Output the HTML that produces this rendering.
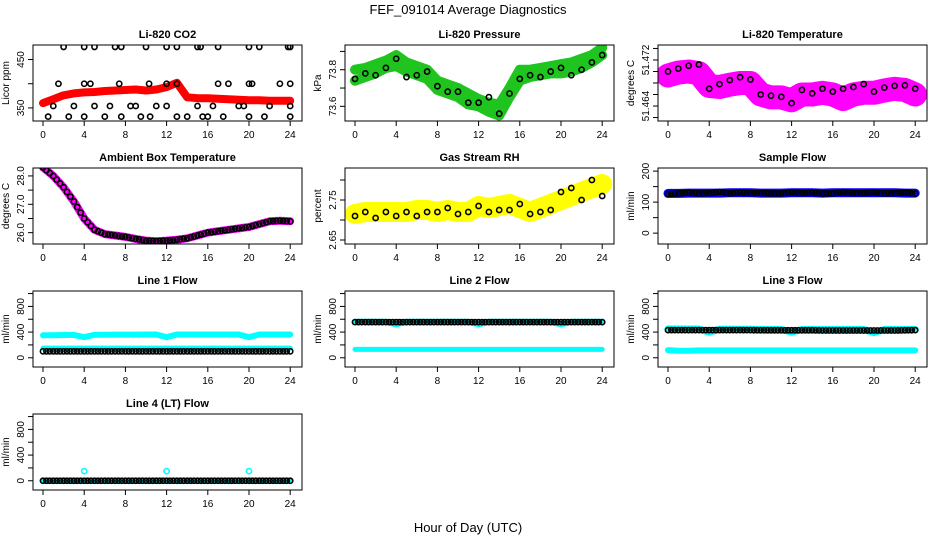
<!DOCTYPE html>
<html><head><meta charset="utf-8"><style>
body{margin:0;background:#fff}
svg{display:block;font-family:"Liberation Sans",sans-serif}
</style></head><body>
<svg id="c" width="936" height="540" xmlns="http://www.w3.org/2000/svg">
<rect width="936" height="540" fill="#fff"/>
<text x="468" y="14" text-anchor="middle" font-size="13">FEF_091014  Average Diagnostics</text>
<text x="468" y="532" text-anchor="middle" font-size="13">Hour of Day (UTC)</text>
</svg>
<script>
const hours=[0,1,2,3,4,5,6,7,8,9,10,11,12,13,14,15,16,17,18,19,20,21,22,23,24];
const xTicks=[0,4,8,12,16,20,24];
const co2Red=[360,368,376,380,382,383,385,386,387,388,386,388,393,402,372,370,370,369,368,367,366,366,365,365,365];
const co2BlackHours=[2,4,5,7,7.6,10,12,13,15,15.3,17,20,21,23.8,24,1.5,4,4.6,7.4,10.3,12,13,17,18,20,20.3,23,24,1,3,5,6.5,8.5,9,11,12,15,16.5,19,19.5,22,24,0.5,2.5,4,6,7.6,9.5,10.4,13,14,15.5,16,17.5,20,21.5,24];
const co2BlackVals=[476,476,476,476,476,476,476,476,476,476,476,476,476,476,476,400,400,400,400,400,400,400,400,400,400,400,400,400,354,354,354,354,354,354,354,354,354,354,354,354,354,354,332,332,332,332,332,332,332,332,332,332,332,332,332,332,332];
const presUpper=[73.80,73.81,73.83,73.85,73.88,73.84,73.82,73.80,73.74,73.72,73.70,73.67,73.64,73.62,73.61,73.70,73.80,73.80,73.81,73.82,73.83,73.84,73.86,73.88,73.92];
const presLower=[73.74,73.76,73.78,73.81,73.82,73.79,73.77,73.75,73.69,73.67,73.65,73.61,73.60,73.57,73.55,73.65,73.74,73.76,73.77,73.78,73.78,73.79,73.81,73.84,73.88];
const presBlack=[73.75,73.78,73.77,73.81,73.86,73.76,73.77,73.79,73.71,73.68,73.68,73.62,73.62,73.65,73.56,73.67,73.75,73.77,73.76,73.79,73.81,73.77,73.80,73.84,73.88];
const tempMag=[51.4693,51.4698,51.4700,51.4697,51.4675,51.4673,51.4677,51.4680,51.4680,51.4660,51.4655,51.4655,51.4650,51.4660,51.4660,51.4663,51.4660,51.4652,51.4660,51.4663,51.4663,51.4667,51.4670,51.4668,51.4660];
const tempBlack=[51.4700,51.4705,51.4710,51.4712,51.4670,51.4678,51.4685,51.4690,51.4686,51.4660,51.4658,51.4656,51.4645,51.4668,51.4662,51.4670,51.4665,51.4670,51.4673,51.4678,51.4665,51.4672,51.4675,51.4676,51.4670];
const ambient=[28.3,28.0,27.6,27.1,26.5,26.1,25.95,25.9,25.85,25.78,25.72,25.7,25.72,25.75,25.8,25.9,26.0,26.05,26.1,26.15,26.2,26.3,26.4,26.42,26.4];
const rhYellow=[2.715,2.72,2.72,2.72,2.72,2.72,2.725,2.725,2.72,2.725,2.72,2.72,2.735,2.73,2.735,2.74,2.73,2.72,2.73,2.74,2.75,2.76,2.77,2.78,2.79];
const rhBlack=[2.71,2.72,2.705,2.72,2.71,2.72,2.71,2.72,2.72,2.73,2.715,2.72,2.735,2.72,2.725,2.725,2.74,2.715,2.72,2.725,2.77,2.78,2.75,2.80,2.76];
const sampleBlue=[128,128,129,129,129,129,130,130,130,129,129,129,130,130,130,129,130,130,130,130,130,130,130,129,129];
const sampleBlack=[126,128,130,128,129,133,128,131,129,129,128,128,131,129,130,128,128,132,129,129,131,128,129,131,128];
const l1CyanHi=[350,352,355,356,320,358,358,360,360,360,362,362,320,362,362,362,362,362,362,362,320,362,362,362,362];
const l1CyanLo=[150,150,150,150,150,150,150,150,150,150,150,150,150,150,150,150,150,150,150,150,150,150,150,150,150];
const l1Black=[100,100,100,100,100,100,100,100,100,100,100,100,100,100,100,100,100,100,100,100,100,100,100,100,100];
const l2CyanHi=[560,560,560,560,520,560,560,560,560,560,560,560,520,560,560,560,560,560,560,560,520,560,560,560,560];
const l2CyanLo=[130,130,130,130,130,130,130,130,130,130,130,130,130,130,130,130,130,130,130,130,130,130,130,130,130];
const l2Black=[555,555,555,555,555,555,555,555,555,555,555,555,555,555,555,555,555,555,555,555,555,555,555,555,555];
const l3CyanHi=[450,448,448,448,400,445,445,445,445,440,440,440,400,440,440,440,440,440,440,440,390,440,440,440,440];
const l3CyanLo=[120,110,110,115,115,115,115,115,115,115,115,115,115,115,115,115,115,115,115,115,115,115,115,115,115];
const l3Black=[430,430,430,430,430,430,430,430,430,428,428,428,428,428,428,425,425,425,425,425,425,425,425,428,430];
const l4Cyan=[0,0,0,0,150,0,0,0,0,0,0,0,150,0,0,0,0,0,0,0,150,0,0,0,0];
const l4Black=[0,0,0,0,0,0,0,0,0,0,0,0,0,0,0,0,0,0,0,0,0,0,0,0,0];

const NS='http://www.w3.org/2000/svg';
const svg=document.getElementById('c');
const colLeft=[33,345,658], rowTop=[45,168,291,414], W=269, H=76;
function el(tag,attrs,parent){const e=document.createElementNS(NS,tag);for(const k in attrs)e.setAttribute(k,attrs[k]);(parent||svg).appendChild(e);return e;}

function panel(col,row,opt){
  const g=el('g',{});
  
  
  const L=colLeft[col],T=rowTop[row],B=T+H;
  const x=h=>L+10+h*10.3;
  const y=v=>B-(v-opt.ymin)/(opt.ymax-opt.ymin)*H;
  const t=el('text',{x:L+W/2,y:T-7,'text-anchor':'middle','font-size':11,'font-weight':'bold'},g);
  t.textContent=opt.title;
  
  
  el('line',{x1:x(0),x2:x(24),y1:B,y2:B,stroke:'#000'},g);
  xTicks.forEach(v=>{
    el('line',{x1:x(v),x2:x(v),y1:B,y2:B+5,stroke:'#000'},g);
    const tx=el('text',{x:x(v),y:B+17,'text-anchor':'middle','font-size':10},g);
    tx.textContent=v;
    
    
  });
  const yt=opt.ticks;
  el('line',{x1:L,x2:L,y1:y(yt[0]),y2:y(yt[yt.length-1]),stroke:'#000'},g);
  yt.forEach(v=>el('line',{x1:L-5,x2:L,y1:y(v),y2:y(v),stroke:'#000'},g));
  opt.labels.forEach(v=>{
    const yy=y(v);
    const tx=el('text',{x:0,y:0,'text-anchor':'middle','font-size':10,transform:`translate(${L-9},${yy}) rotate(-90)`},g);
    tx.textContent=opt.fmt?opt.fmt(v):v;
    
    
  });
  const yl=el('text',{x:0,y:0,'text-anchor':'middle','font-size':10,transform:`translate(${L-24},${T+H/2}) rotate(-90)`},g);
  yl.textContent=opt.ylab;
  
  
  const cid='clip'+col+row;
  const cp=el('clipPath',{id:cid},g);
  el('rect',{x:L,y:T,width:W,height:H},cp);
  const d=el('g',{'clip-path':`url(#${cid})`},g);
  (opt.bands||[]).forEach(b=>{
    const pts=b.vals.map((v,i)=>x(hours[i]).toFixed(1)+','+y(v).toFixed(1)).join(' ');
    const p=el('polyline',{points:pts,fill:'none',stroke:b.color,'stroke-width':b.w,'stroke-linejoin':'round','stroke-linecap':'round'},d);
    
    
  });
  (opt.pts||[]).forEach(s=>{
    s.vals.forEach((v,i)=>{
      const hx=s.hrs?s.hrs[i]:hours[i];
      const c=el('circle',{cx:x(hx),cy:y(v),r:2.6,fill:'none',stroke:s.color,'stroke-width':1.6},d);
      
      
      if(s.dense&&i<s.vals.length-1){
        const n=s.vals[i+1];
        [0.33,0.66].forEach(f=>{
          const c2=el('circle',{cx:x(hx+f),cy:y(v+(n-v)*f),r:2.6,fill:'none',stroke:s.color,'stroke-width':1.6},d);
          
          
        });
      }
    });
  });
  el('rect',{x:L,y:T,width:W,height:H,fill:'none',stroke:'#000'},g);
}

panel(0,0,{name:'panel-co2',title:'Li-820 CO2',ylab:'Licor ppm',ymin:323,ymax:480,ticks:[350,400,450],labels:[350,450],
  bands:[{vals:co2Red,color:'#f00',w:8,name:'co2-red-band'}],
  pts:[{vals:co2BlackVals,hrs:co2BlackHours,color:'#000',name:'co2-point'}]});
panel(1,0,{name:'panel-pressure',title:'Li-820 Pressure',ylab:'kPa',ymin:73.52,ymax:73.935,ticks:[73.6,73.7,73.8,73.9],labels:[73.6,73.8],fmt:v=>v.toFixed(1),
  bands:[{vals:presUpper,color:'#1fc41f',w:10,name:'pressure-band-upper'},{vals:presLower,color:'#1fc41f',w:10,name:'pressure-band-lower'}],
  pts:[{vals:presBlack,color:'#000',name:'pressure-point'}]});
panel(2,0,{name:'panel-temperature',title:'Li-820 Temperature',ylab:'degrees C',ymin:51.4614,ymax:51.4746,ticks:[51.462,51.464,51.466,51.468,51.47,51.472,51.474],labels:[51.464,51.472],fmt:v=>v.toFixed(3),
  bands:[{vals:tempMag,color:'#f0f',w:24,name:'temperature-band'}],
  pts:[{vals:tempBlack,color:'#000',name:'temperature-point'}]});
panel(0,1,{name:'panel-ambient',title:'Ambient Box Temperature',ylab:'degrees C',ymin:25.6,ymax:28.28,ticks:[26,26.5,27,27.5,28],labels:[26,27,28],fmt:v=>v.toFixed(1),
  bands:[{vals:ambient,color:'#f0f',w:8,name:'ambient-band'}],
  pts:[{vals:ambient,color:'#000',name:'ambient-point',dense:true}]});
panel(1,1,{name:'panel-rh',title:'Gas Stream RH',ylab:'percent',ymin:2.64,ymax:2.83,ticks:[2.65,2.7,2.75,2.8],labels:[2.65,2.75],fmt:v=>v.toFixed(2),
  bands:[{vals:rhYellow,color:'#ff0',w:20,name:'rh-band'}],
  pts:[{vals:rhBlack,color:'#000',name:'rh-point'}]});
panel(2,1,{name:'panel-sample-flow',title:'Sample Flow',ylab:'ml/min',ymin:-35,ymax:210,ticks:[0,50,100,150,200],labels:[0,100,200],
  bands:[{vals:sampleBlue,color:'#00f',w:9,name:'sample-band'}],
  pts:[{vals:sampleBlack,color:'#000',name:'sample-point',dense:true}]});
const fl={ymin:-144,ymax:1040,ticks:[0,200,400,600,800,1000],labels:[0,400,800],ylab:'ml/min'};
panel(0,2,Object.assign({name:'panel-line1',title:'Line 1 Flow',
  bands:[{vals:l1CyanHi,color:'#0ff',w:6,name:'line1-cyan-high'},{vals:l1CyanLo,color:'#0ff',w:5,name:'line1-cyan-low'}],
  pts:[{vals:l1Black,color:'#000',name:'line1-point',dense:true}]},fl));
panel(1,2,Object.assign({name:'panel-line2',title:'Line 2 Flow',
  bands:[{vals:l2CyanHi,color:'#0ff',w:6,name:'line2-cyan-high'},{vals:l2CyanLo,color:'#0ff',w:5,name:'line2-cyan-low'}],
  pts:[{vals:l2Black,color:'#000',name:'line2-point',dense:true}]},fl));
panel(2,2,Object.assign({name:'panel-line3',title:'Line 3 Flow',
  bands:[{vals:l3CyanHi,color:'#0ff',w:7,name:'line3-cyan-high'},{vals:l3CyanLo,color:'#0ff',w:6,name:'line3-cyan-low'}],
  pts:[{vals:l3Black,color:'#000',name:'line3-point',dense:true}]},fl));
panel(0,3,Object.assign({name:'panel-line4',title:'Line 4 (LT) Flow',
  bands:[{vals:l4Black.slice(),color:'#0ff',w:6,name:'line4-cyan-band'}],
  pts:[{vals:l4Cyan,color:'#0ff',name:'line4-cyan-point'},{vals:l4Black,color:'#000',name:'line4-point',dense:true}]},fl));
</script>
</body></html>
